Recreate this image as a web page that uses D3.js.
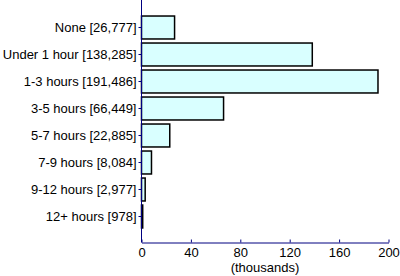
<!DOCTYPE html>
<html>
<head>
<meta charset="utf-8">
<script src="https://cdn.jsdelivr.net/npm/d3@7"></script>
<style>
html,body{margin:0;padding:0;background:#fff;}
svg{display:block;font-family:"Liberation Sans",Arial,sans-serif;}
</style>
</head>
<body>
<svg id="chart" width="400" height="276"></svg>
<script>
const categories = ["None [26,777]","Under 1 hour [138,285]","1-3 hours [191,486]","3-5 hours [66,449]","5-7 hours [22,885]","7-9 hours [8,084]","9-12 hours [2,977]","12+ hours [978]"];
const values = [26.777, 138.285, 191.486, 66.449, 22.885, 8.084, 2.977, 0.978];
const xTicks = [0, 40, 80, 120, 160, 200];
const xLabel = "(thousands)";

(function () {
const svg = d3.select("#chart");
const mLeft = 141.5, mRight = 388.5, mTop = 0, mBottom = 242.5;
const axisColor = "#000080";
const fs = 13;

const x = d3.scaleLinear().domain([0, 200]).range([mLeft, mRight]);
const y = d3.scaleBand().domain(categories).range([14, 230]).paddingInner(0.15).paddingOuter(0.075);

// bars
svg.append("g").selectAll("rect").data(values).join("rect")
  .attr("x", x(0))
  .attr("y", (d, i) => y(categories[i]))
  .attr("width", d => x(d) - x(0))
  .attr("height", y.bandwidth())
  .attr("fill", "#d9ffff")
  .attr("stroke", "#000")
  .attr("stroke-width", 1.5);

// y axis
const yAxis = svg.append("g").attr("transform", `translate(${mLeft},0)`)
  .call(d3.axisLeft(y).tickSize(3).tickPadding(2).tickSizeOuter(0));
yAxis.select(".domain").remove();
yAxis.append("line").attr("x1", 0).attr("x2", 0).attr("y1", mTop).attr("y2", mBottom).attr("stroke", axisColor);
yAxis.selectAll(".tick line").attr("stroke", axisColor);
yAxis.selectAll(".tick text").attr("fill", "#000").attr("font-size", fs).attr("font-family", "Liberation Sans, Arial, sans-serif");

// x axis
const xAxis = svg.append("g").attr("transform", `translate(0,${mBottom})`)
  .call(d3.axisBottom(x).tickValues(xTicks).tickSize(-3).tickSizeOuter(0).tickPadding(5));
xAxis.select(".domain").attr("stroke", axisColor);
xAxis.selectAll(".tick line").attr("stroke", axisColor);
xAxis.selectAll(".tick text").attr("fill", "#000").attr("font-size", fs).attr("font-family", "Liberation Sans, Arial, sans-serif");

svg.append("text").attr("x", (mLeft + mRight) / 2).attr("y", 272)
  .attr("text-anchor", "middle").attr("font-size", fs).attr("fill", "#000")
  .text(xLabel);
})();
</script>
</body>
</html>
